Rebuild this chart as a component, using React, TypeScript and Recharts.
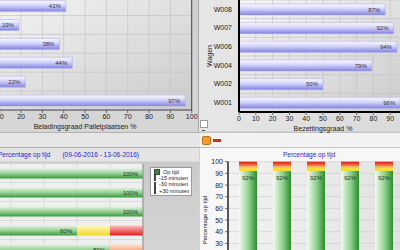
import { BarChart, Bar, XAxis, YAxis, CartesianGrid, LabelList, ReferenceLine } from "recharts";

// bezetting palletplaatsen (namen vallen buiten beeld)
const palletNamen = ["L1", "L2", "L3", "L4", "L5", "L6"];
const palletBezetting = [41, 19, 38, 44, 22, 97];

// bezetting wagens
const wagens = ["W008", "W007", "W006", "W004", "W002", "W001"];
const wagenBezetting = [87, 92, 94, 79, 50, 96];

const pctTicks = [0, 10, 20, 30, 40, 50, 60, 70, 80, 90, 100];

// percentage op tijd per rit
const ritten = ["R1", "R2", "R3", "R4", "R5"];
const ritOpTijd = [100, 100, 100, 60, 80];
const rit15 = [0, 0, 0, 20, 0];
const rit30 = [0, 0, 0, 0, 20];
const ritPlus30 = [0, 0, 0, 20, 0];

// percentage op tijd per dag
const dagen = ["09-06", "10-06", "11-06", "12-06", "13-06"];
const dagOpTijd = [92, 92, 92, 92, 92];
const dag15 = [3, 3, 3, 3, 3];
const dag30 = [1, 1, 1, 1, 1];
const dagPlus30 = [4, 4, 4, 4, 4];

const reeksen = ["Op tijd", "-15 minuten", "-30 minuten", "+30 minuten"];
const reeksKleuren = ["#2e8b2e", "#f2c822", "#f07a22", "#e02222"];

const palletData = palletNamen.map((naam, i) => ({ naam, waarde: palletBezetting[i] }));
const wagenData = wagens.map((naam, i) => ({ naam, waarde: wagenBezetting[i] }));
const ritData = ritten.map((naam, i) => ({
  naam, opTijd: ritOpTijd[i], m15: rit15[i], m30: rit30[i], p30: ritPlus30[i],
}));
const dagData = dagen.map((naam, i) => ({
  naam, opTijd: dagOpTijd[i], m15: dag15[i], m30: dag30[i], p30: dagPlus30[i],
}));

const bandLijnen = (n: number) => (props: any) => {
  const o = props && props.offset;
  if (!o) return [];
  return Array.from({ length: n + 1 }, (_, i) => o.top + (i * o.height) / n);
};

const tickStijl = { fontSize: 7, fill: "#222" };
const procent = (v: any) => `${v}%`;
const procentNietNul = (v: any) => (v ? `${v}%` : "");

function Verlopen() {
  return (
    <defs>
      <linearGradient id="blauwBalk" x1="0" y1="0" x2="0" y2="1">
        <stop offset="0" stopColor="#fbfbff" />
        <stop offset="0.45" stopColor="#d2d2fa" />
        <stop offset="1" stopColor="#8282e2" />
      </linearGradient>
      <linearGradient id="vlakGrijs" x1="0" y1="0" x2="1" y2="1">
        <stop offset="0" stopColor="#f6f6f6" />
        <stop offset="1" stopColor="#cbcbcb" />
      </linearGradient>
      <linearGradient id="groenH" x1="0" y1="0" x2="0" y2="1">
        <stop offset="0" stopColor="#e2f3e2" />
        <stop offset="0.5" stopColor="#96d196" />
        <stop offset="1" stopColor="#379a37" />
      </linearGradient>
      <linearGradient id="geelH" x1="0" y1="0" x2="0" y2="1">
        <stop offset="0" stopColor="#fff9c0" />
        <stop offset="1" stopColor="#f2d628" />
      </linearGradient>
      <linearGradient id="oranjeH" x1="0" y1="0" x2="0" y2="1">
        <stop offset="0" stopColor="#ffe0cc" />
        <stop offset="1" stopColor="#f28a5a" />
      </linearGradient>
      <linearGradient id="roodH" x1="0" y1="0" x2="0" y2="1">
        <stop offset="0" stopColor="#ffc0c0" />
        <stop offset="1" stopColor="#e01c1c" />
      </linearGradient>
      <linearGradient id="groenV" x1="0" y1="0" x2="1" y2="0">
        <stop offset="0" stopColor="#f4fbf4" />
        <stop offset="0.55" stopColor="#8ccf8c" />
        <stop offset="1" stopColor="#2b8c2b" />
      </linearGradient>
      <linearGradient id="roodV" x1="0" y1="0" x2="0" y2="1">
        <stop offset="0" stopColor="#e01616" />
        <stop offset="1" stopColor="#f8904a" />
      </linearGradient>
      <linearGradient id="vlakLicht" x1="0" y1="0" x2="1" y2="0">
        <stop offset="0" stopColor="#f2f2f2" />
        <stop offset="1" stopColor="#e2e2e2" />
      </linearGradient>
    </defs>
  );
}

export default function App() {
  return (
    <div style={{ position: "fixed", left: 0, top: 0, width: 400, height: 250, overflow: "hidden", background: "#d2d2d2", fontFamily: "'Liberation Sans', Arial, sans-serif" }}>
      {/* panelen */}
      <div style={{ position: "absolute", left: 0, top: 0, width: 198, height: 131, background: "linear-gradient(180deg,#cfcfcf,#d6d6d6)", borderRight: "1px solid #a8a8a8" }} />
      <div style={{ position: "absolute", left: 199, top: 0, width: 201, height: 131, background: "linear-gradient(90deg,#e6e6e6,#dadada)" }} />
      <div style={{ position: "absolute", left: 0, top: 132, width: 200, height: 14, background: "#e6e6e6", borderTop: "1px solid #b4b4b4", borderBottom: "1px solid #b4b4b4" }} />
      <div style={{ position: "absolute", left: 200, top: 132, width: 200, height: 14, background: "#f2f2f2", borderTop: "1px solid #c4c4c4", borderBottom: "1px solid #c4c4c4" }} />
      <div style={{ position: "absolute", left: 0, top: 148, width: 199, height: 102, background: "linear-gradient(180deg,#e4e4e4 0px,#e4e4e4 13px,#cacaca 14px,#d4d4d4)" }} />
      <div style={{ position: "absolute", left: 200, top: 148, width: 200, height: 102, background: "#f7f7f7" }} />
      {/* knoppen */}
      <div style={{ position: "absolute", left: 200, top: 120, width: 6, height: 6, background: "#fff", border: "1px solid #9a9a9a" }} />
      <div style={{ position: "absolute", left: 202, top: 130, width: 3, height: 1, background: "#555" }} />
      <div style={{ position: "absolute", left: 202, top: 136, width: 7, height: 7, borderRadius: 2, background: "#f0a030", border: "1px solid #c07010" }} />
      <div style={{ position: "absolute", left: 213, top: 139, width: 8, height: 3, background: "#d02c2c" }} />

      {/* linksboven */}
      <div style={{ position: "absolute", left: -40, top: -20 }}>
        <BarChart width={240} height={160} data={palletData} layout="vertical" margin={{ top: 16.6, right: 8.3, bottom: 5, left: 18.4 }}>
          <Verlopen />
          <CartesianGrid fill="url(#vlakGrijs)" stroke="#c4c4c4" strokeWidth={0.7} horizontalCoordinatesGenerator={bandLijnen(6)} />
          <XAxis type="number" domain={[0, 100]} ticks={pctTicks} interval={0} tick={tickStijl} tickSize={3} tickMargin={1} height={25} axisLine={{ stroke: "#444" }}
            label={{ value: "Beladingsgraad Palletplaatsen %", position: "insideBottom", offset: 6, style: { fontSize: 7, fill: "#222" } }} />
          <YAxis type="category" dataKey="naam" hide />
          <ReferenceLine x={100} stroke="#444" />
          <Bar dataKey="waarde" fill="url(#blauwBalk)" stroke="#a4a4e8" strokeWidth={0.5} barSize={11} isAnimationActive={false}>
            <LabelList dataKey="waarde" position="insideRight" formatter={procent} style={{ fontSize: 6, fill: "#333" }} />
          </Bar>
        </BarChart>
      </div>

      {/* rechtsboven */}
      <div style={{ position: "absolute", left: 200, top: 0 }}>
        <BarChart width={215} height={137} data={wagenData} layout="vertical" margin={{ top: 0, right: 8, bottom: 0, left: 0 }}>
          <Verlopen />
          <CartesianGrid fill="url(#vlakGrijs)" stroke="#c4c4c4" strokeWidth={0.7} horizontalCoordinatesGenerator={bandLijnen(6)} />
          <XAxis type="number" domain={[0, 100]} ticks={pctTicks} interval={0} tick={tickStijl} tickSize={3} tickMargin={1} height={25} axisLine={{ stroke: "#000", strokeWidth: 2 }}
            label={{ value: "Bezettingsgraad %", position: "insideBottom", offset: 6, style: { fontSize: 7, fill: "#222" } }} />
          <YAxis type="category" dataKey="naam" width={39} tick={tickStijl} tickLine={false} tickSize={3} tickMargin={4} axisLine={{ stroke: "#000", strokeWidth: 2 }}
            label={{ value: "Wagen", angle: -90, position: "insideLeft", offset: 10, style: { fontSize: 7, fill: "#222", textAnchor: "middle" } }} />
          <Bar dataKey="waarde" fill="url(#blauwBalk)" stroke="#a4a4e8" strokeWidth={0.5} barSize={11} isAnimationActive={false}>
            <LabelList dataKey="waarde" position="insideRight" formatter={procent} style={{ fontSize: 6, fill: "#333" }} />
          </Bar>
        </BarChart>
      </div>

      {/* linksonder */}
      <div style={{ position: "absolute", left: -2, top: 151, fontSize: 6.5, color: "#2a2ab8", whiteSpace: "nowrap" }}>
        Percentage op tijd<span style={{ marginLeft: 12 }}>(09-06-2016 - 13-06-2016)</span>
      </div>
      <div style={{ position: "absolute", left: -40, top: 150 }}>
        <BarChart width={240} height={120} data={ritData} layout="vertical" margin={{ top: 13.5, right: 57, bottom: 11.5, left: 18 }}>
          <Verlopen />
          <CartesianGrid fill="#efefef" stroke="#d2d2d2" strokeWidth={0.7} horizontalCoordinatesGenerator={bandLijnen(5)} />
          <XAxis type="number" domain={[0, 100]} ticks={pctTicks} hide />
          <YAxis type="category" dataKey="naam" hide />
          <ReferenceLine x={100} stroke="#8a8a8a" />
          <Bar dataKey="opTijd" stackId="s" fill="url(#groenH)" barSize={10} isAnimationActive={false}>
            <LabelList dataKey="opTijd" position="insideRight" formatter={procentNietNul} style={{ fontSize: 6, fill: "#1d3d1d" }} />
          </Bar>
          <Bar dataKey="m15" stackId="s" fill="url(#geelH)" barSize={10} isAnimationActive={false} />
          <Bar dataKey="m30" stackId="s" fill="url(#oranjeH)" barSize={10} isAnimationActive={false} />
          <Bar dataKey="p30" stackId="s" fill="url(#roodH)" barSize={10} isAnimationActive={false} />
        </BarChart>
      </div>
      <div style={{ position: "absolute", left: 150, top: 167, width: 34, padding: "1px 3px", background: "#fff", border: "1px solid #9a9a9a" }}>
        {reeksen.map((r, i) => (
          <div key={r} style={{ display: "flex", alignItems: "center", fontSize: 5.5, lineHeight: "6.2px", color: "#222", whiteSpace: "nowrap" }}>
            <span style={{ display: "inline-block", width: 4, height: 4, background: reeksKleuren[i], marginRight: 3, border: "0.5px solid #444" }} />
            {r}
          </div>
        ))}
      </div>

      {/* rechtsonder */}
      <div style={{ position: "absolute", left: 283, top: 151, fontSize: 6.5, color: "#2a2ab8", whiteSpace: "nowrap" }}>Percentage op tijd</div>
      <div style={{ position: "absolute", left: 200, top: 148 }}>
        <BarChart width={210} height={155} data={dagData} margin={{ top: 13.7, right: 9, bottom: 4.6, left: 0 }}>
          <Verlopen />
          <CartesianGrid fill="url(#vlakLicht)" stroke="#cfcfcf" strokeWidth={0.7} vertical={false} />
          <XAxis dataKey="naam" tick={tickStijl} height={20} padding={{ left: 3, right: 0 }} axisLine={{ stroke: "#333" }} />
          <YAxis domain={[0, 100]} ticks={pctTicks} interval={0} width={28} tick={tickStijl} tickSize={3} tickMargin={2} axisLine={{ stroke: "#222", strokeWidth: 1.5 }}
            label={{ value: "Percentage op tijd", angle: -90, position: "insideLeft", offset: 5, style: { fontSize: 6, fill: "#222", textAnchor: "middle" } }} />
          <Bar dataKey="opTijd" stackId="d" fill="url(#groenV)" barSize={18} isAnimationActive={false}>
            <LabelList dataKey="opTijd" position="insideTop" offset={5} formatter={procent} style={{ fontSize: 6, fill: "#1d3d1d" }} />
          </Bar>
          <Bar dataKey="m15" stackId="d" fill="#f6dc3a" barSize={18} isAnimationActive={false} />
          <Bar dataKey="m30" stackId="d" fill="#f6a046" barSize={18} isAnimationActive={false} />
          <Bar dataKey="p30" stackId="d" fill="url(#roodV)" barSize={18} isAnimationActive={false} />
        </BarChart>
      </div>
    </div>
  );
}
